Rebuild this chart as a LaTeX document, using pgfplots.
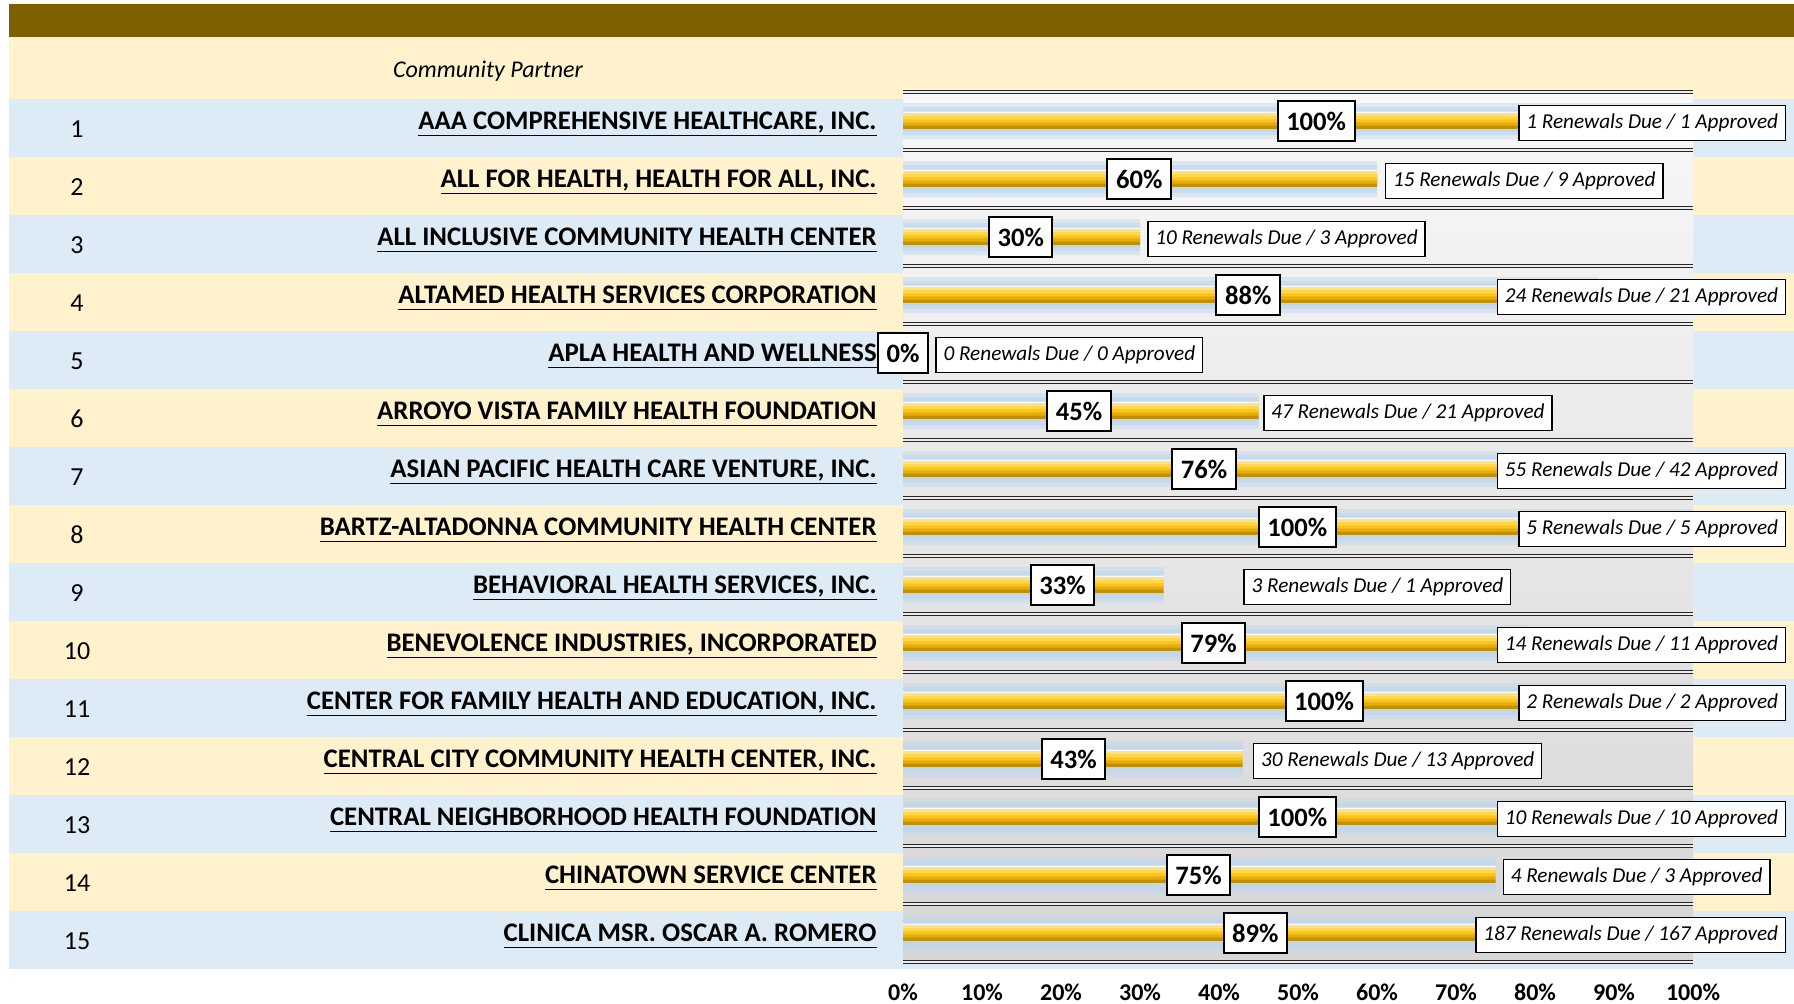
\documentclass[border=0pt]{standalone}
\usepackage{pgfplots}
\pgfplotsset{compat=1.18}
\usepackage{fontspec}
\setmainfont{Carlito}
\definecolor{hdr}{HTML}{7F6000}
\definecolor{byel}{HTML}{FFF2CC}
\definecolor{bblue}{HTML}{DDEBF7}
\definecolor{glow}{HTML}{BDD7EE}
\definecolor{g1}{HTML}{FFE285}
\definecolor{g2}{HTML}{FFD650}
\definecolor{g3}{HTML}{FFC410}
\definecolor{g4}{HTML}{E8AD00}
\definecolor{g5}{HTML}{C29000}
\definecolor{lin}{HTML}{262626}
\definecolor{bgtop}{HTML}{F8F8F8}
\definecolor{bgbot}{HTML}{D6D6D6}
\newcommand\ul[1]{\underline{#1\vphantom{,}}}
\pgfplotstableread{
y val
1 100
2 60
3 30
4 88
5 0
6 45
7 76
8 100
9 33
10 79
11 100
12 43
13 100
14 75
15 89
}\bars
\begin{document}
\begin{tikzpicture}
\path[use as bounding box] (0,0) rectangle (897pt,501.5pt);
\begin{scope}[x=0.5pt,y=-0.5pt,shift={(0pt,501.5pt)}]
\fill[hdr] (9,4) rectangle (1794,37);
\fill[byel] (9,37) rectangle (1794,99);
\foreach \i in {1,...,15}{
  \ifodd\i \def\bc{bblue}\else\def\bc{byel}\fi
  \fill[\bc] (9,{99+58*(\i-1)}) rectangle (1794,{99+58*\i});
  \node[font=\fontsize{13}{13}\selectfont] at (77,{129+58*(\i-1)}) {\i};
}
\node[font=\itshape\fontsize{12}{12}\selectfont] at (488,71) {Community Partner};
\end{scope}
\begin{axis}[
  at={(451.5pt,20.5pt)}, anchor=south west,
  scale only axis, width=395pt, height=435pt,
  xmin=0, xmax=100, ymin=0.5, ymax=15.5, y dir=reverse,
  axis background/.style={top color=bgtop, bottom color=bgbot},
  axis line style={draw=none},
  major tick length=0pt, minor tick length=0pt,
  tick style={draw=none},
  xtick={0,10,...,100},
  xticklabels={0\%,10\%,20\%,30\%,40\%,50\%,60\%,70\%,80\%,90\%,100\%},
  xticklabel style={font=\bfseries\fontsize{12}{12}\selectfont, anchor=center, yshift=-15.2pt},
  ytick={1,...,15},
  yticklabels={
    {\ul{AAA COMPREHENSIVE HEALTHCARE, INC.}},
    {\ul{ALL FOR HEALTH, HEALTH FOR ALL, INC.}},
    {\ul{ALL INCLUSIVE COMMUNITY HEALTH CENTER}},
    {\ul{ALTAMED HEALTH SERVICES CORPORATION}},
    {\ul{APLA HEALTH AND WELLNESS}},
    {\ul{ARROYO VISTA FAMILY HEALTH FOUNDATION}},
    {\ul{ASIAN PACIFIC HEALTH CARE VENTURE, INC.}},
    {\ul{BARTZ-ALTADONNA COMMUNITY HEALTH CENTER}},
    {\ul{BEHAVIORAL HEALTH SERVICES, INC.}},
    {\ul{BENEVOLENCE INDUSTRIES, INCORPORATED}},
    {\ul{CENTER FOR FAMILY HEALTH AND EDUCATION, INC.}},
    {\ul{CENTRAL CITY COMMUNITY HEALTH CENTER, INC.}},
    {\ul{CENTRAL NEIGHBORHOOD HEALTH FOUNDATION}},
    {\ul{CHINATOWN SERVICE CENTER}},
    {\ul{CLINICA MSR. OSCAR A. ROMERO}}},
  yticklabel style={font=\bfseries\fontsize{13.4}{13.4}\selectfont, anchor=east, xshift=-13pt, yshift=-1.7pt, inner sep=0pt},
  minor ytick={0.5,1.5,...,15.5},
  yminorgrids=true,
  minor y grid style={draw=lin, line width=0.7pt, double=white!85!gray, double distance=0.6pt},
]
% blue glow
\addplot[xbar, bar width=18pt, draw=none, fill=glow, fill opacity=0.45] table[x=val,y=y]{\bars};
\addplot[xbar, bar width=14pt, draw=none, fill=glow, fill opacity=0.55] table[x=val,y=y]{\bars};
\addplot[xbar, bar width=10.5pt, draw=none, fill=glow, fill opacity=0.75] table[x=val,y=y]{\bars};
\addplot[xbar, bar width=0.9pt, bar shift=4.3pt, draw=none, fill=white, fill opacity=0.9] table[x=val,y=y]{\bars};
% gold bar, drawn as five bands from light (top) to dark (bottom)
\addplot[xbar, bar width=1.7pt, bar shift=3.1pt, draw=none, fill=g1] table[x=val,y=y]{\bars};
\addplot[xbar, bar width=1.7pt, bar shift=1.55pt, draw=none, fill=g2] table[x=val,y=y]{\bars};
\addplot[xbar, bar width=1.7pt, bar shift=0pt, draw=none, fill=g3] table[x=val,y=y]{\bars};
\addplot[xbar, bar width=1.7pt, bar shift=-1.55pt, draw=none, fill=g4] table[x=val,y=y]{\bars};
\addplot[xbar, bar width=1.7pt, bar shift=-3.1pt, draw=none, fill=g5] table[x=val,y=y]{\bars};
% value labels
\addplot[draw=none, mark=none, point meta=explicit symbolic, nodes near coords,
  nodes near coords style={anchor=center, draw=black, line width=1pt, fill=white, text=black, font=\bfseries\fontsize{13.3}{13.3}\selectfont, inner xsep=4.3pt, inner ysep=0pt, minimum height=20pt}]
coordinates {(52.3,1) [100\%] (29.9,2) [60\%] (14.9,3) [30\%] (43.7,4) [88\%] (0,5) [0\%]
(22.3,6) [45\%] (38.1,7) [76\%] (49.9,8) [100\%] (20.2,9) [33\%] (39.3,10) [79\%]
(53.3,11) [100\%] (21.6,12) [43\%] (49.9,13) [100\%] (37.4,14) [75\%] (44.6,15) [89\%]};
% renewal labels, right aligned at the chart's right edge
\addplot[draw=none, mark=none, point meta=explicit symbolic, nodes near coords,
  nodes near coords style={anchor=east, xshift=47pt, yshift=-1pt, draw=black, line width=0.75pt, fill=white, text=black, font=\itshape\fontsize{10.6}{10.6}\selectfont, inner xsep=3.7pt, inner ysep=0pt, minimum height=17.5pt}]
coordinates {(99.9,1) [1 Renewals Due / 1 Approved] (99.9,4) [24 Renewals Due / 21 Approved]
(99.9,7) [55 Renewals Due / 42 Approved] (99.9,8) [5 Renewals Due / 5 Approved]
(99.9,10) [14 Renewals Due / 11 Approved] (99.9,11) [2 Renewals Due / 2 Approved]
(99.9,13) [10 Renewals Due / 10 Approved] (99.9,15) [187 Renewals Due / 167 Approved]};
% renewal labels, left aligned
\addplot[draw=none, mark=none, point meta=explicit symbolic, nodes near coords,
  nodes near coords style={anchor=west, yshift=-1pt, draw=black, line width=0.75pt, fill=white, text=black, font=\itshape\fontsize{10.6}{10.6}\selectfont, inner xsep=3.7pt, inner ysep=0pt, minimum height=17.5pt}]
coordinates {(61.0,2) [15 Renewals Due / 9 Approved] (30.9,3) [10 Renewals Due / 3 Approved]
(4.1,5) [0 Renewals Due / 0 Approved] (45.6,6) [47 Renewals Due / 21 Approved]
(43.1,9) [3 Renewals Due / 1 Approved] (44.3,12) [30 Renewals Due / 13 Approved]
(75.9,14) [4 Renewals Due / 3 Approved]};
\end{axis}
\end{tikzpicture}
\end{document}
